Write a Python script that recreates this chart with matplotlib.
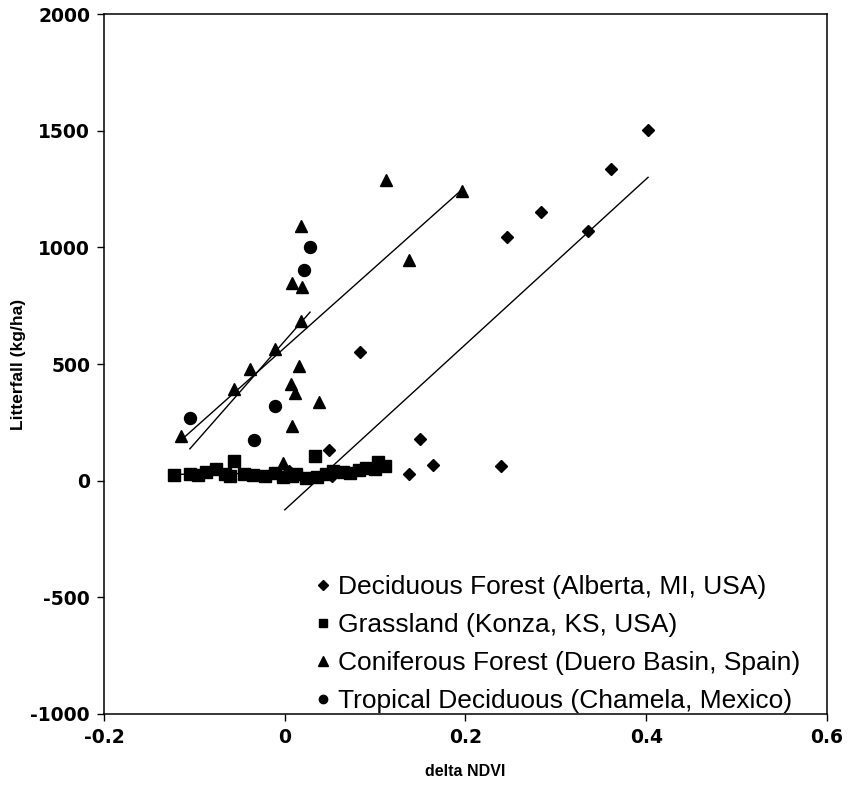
import matplotlib
matplotlib.use("Agg")
import matplotlib.pyplot as plt
from matplotlib.lines import Line2D
import numpy as np

plt.rcParams['font.family'] = ['Liberation Sans', 'DejaVu Sans']
plt.rcParams['axes.unicode_minus'] = False

# ---- data ----
decid_x = [0.402, 0.361, 0.284, 0.246, 0.336, 0.083, 0.150, 0.164, 0.138, 0.239, 0.049, 0.052, 0.005]
decid_y = [1504, 1336, 1150, 1044, 1071, 551, 179, 69, 29, 64, 133, 22, 40]

grass_x = [-0.122, -0.105, -0.096, -0.087, -0.076, -0.066, -0.061, -0.056, -0.045, -0.035,
           -0.022, -0.011, -0.002, 0.008, 0.013, 0.024, 0.033, 0.036, 0.046, 0.053,
           0.064, 0.072, 0.082, 0.090, 0.100, 0.103, 0.111]
grass_y = [25, 30, 25, 38, 50, 28, 18, 85, 30, 25,
           20, 32, 15, 22, 28, 12, 105, 15, 28, 42,
           35, 32, 45, 55, 50, 82, 62]

conif_x = [0.0185, 0.008, 0.0196, 0.0177, -0.0103, -0.038, -0.0565, -0.1144, 0.0155, 0.0074,
           0.0111, 0.0377, 0.0085, -0.002, 0.1115, 0.1964, 0.138]
conif_y = [1093, 847, 829, 686, 564, 479, 393, 193, 490, 414,
           376, 336, 233, 76, 1290, 1240, 947]

trop_x = [0.0277, 0.0218, -0.0111, -0.1044, -0.0343]
trop_y = [1001, 904, 318, 269, 176]

# trend lines: (x_start, x_end, slope, intercept)
trend_decid = (0.0, 0.402, 3545.0, -125.0)
trend_grass = (-0.122, 0.111, 50.0, 33.0)
trend_conif = (-0.114, 0.196, 3455.0, 570.0)
trend_trop = (-0.105, 0.028, 4406.0, 599.0)

labels = ["Deciduous Forest (Alberta, MI, USA)",
          "Grassland (Konza, KS, USA)",
          "Coniferous Forest (Duero Basin, Spain)",
          "Tropical Deciduous (Chamela, Mexico)"]

xticks = [-0.2, 0, 0.2, 0.4, 0.6]
xticklabels = ["-0.2", "0", "0.2", "0.4", "0.6"]
yticks = [-1000, -500, 0, 500, 1000, 1500, 2000]

# ---- figure ----
fig = plt.figure(figsize=(8.51, 7.92), dpi=100)
ax = fig.add_axes([0.1222, 0.0985, 0.8496, 0.8838])

ms = 8.2
ax.plot(decid_x, decid_y, linestyle='none', marker='D', ms=ms * 0.8, color='black', zorder=3)
ax.plot(grass_x, grass_y, linestyle='none', marker='s', ms=ms * 1.0, color='black', zorder=3)
ax.plot(conif_x, conif_y, linestyle='none', marker='^', ms=ms * 1.05, color='black', zorder=3)
ax.plot(trop_x, trop_y, linestyle='none', marker='o', ms=ms * 1.05, color='black', zorder=3)

for (x0, x1, m, b) in [trend_decid, trend_grass, trend_conif, trend_trop]:
    xs = np.array([x0, x1])
    ax.plot(xs, m * xs + b, color='black', lw=1.0, zorder=2)

ax.set_xlim(-0.2, 0.6)
ax.set_ylim(-1000, 2000)
ax.set_xticks(xticks)
ax.set_xticklabels(xticklabels)
ax.set_yticks(yticks)
ax.tick_params(direction='out', length=5, width=1.0, pad=5)
for lab in ax.get_xticklabels() + ax.get_yticklabels():
    lab.set_fontweight('bold')
    lab.set_fontfamily('DejaVu Sans')
    lab.set_fontsize(13.5)
for s in ax.spines.values():
    s.set_linewidth(1.1)

ax.set_xlabel("delta NDVI", fontsize=11.5, fontweight='bold', labelpad=12)
ax.set_ylabel("Litterfall (kg/ha)", fontsize=12.5, fontweight='bold', labelpad=3)

handles = [Line2D([], [], linestyle='none', marker='D', ms=5.5, color='black'),
           Line2D([], [], linestyle='none', marker='s', ms=6, color='black'),
           Line2D([], [], linestyle='none', marker='^', ms=6.5, color='black'),
           Line2D([], [], linestyle='none', marker='o', ms=6, color='black')]
ax.legend(handles, labels, loc='lower right', frameon=False, fontsize=19,
          handlelength=0.5, handletextpad=0.3, labelspacing=0.53,
          borderaxespad=0.0, bbox_to_anchor=(0.977, -0.014))

fig.savefig("out.png", dpi=100)
